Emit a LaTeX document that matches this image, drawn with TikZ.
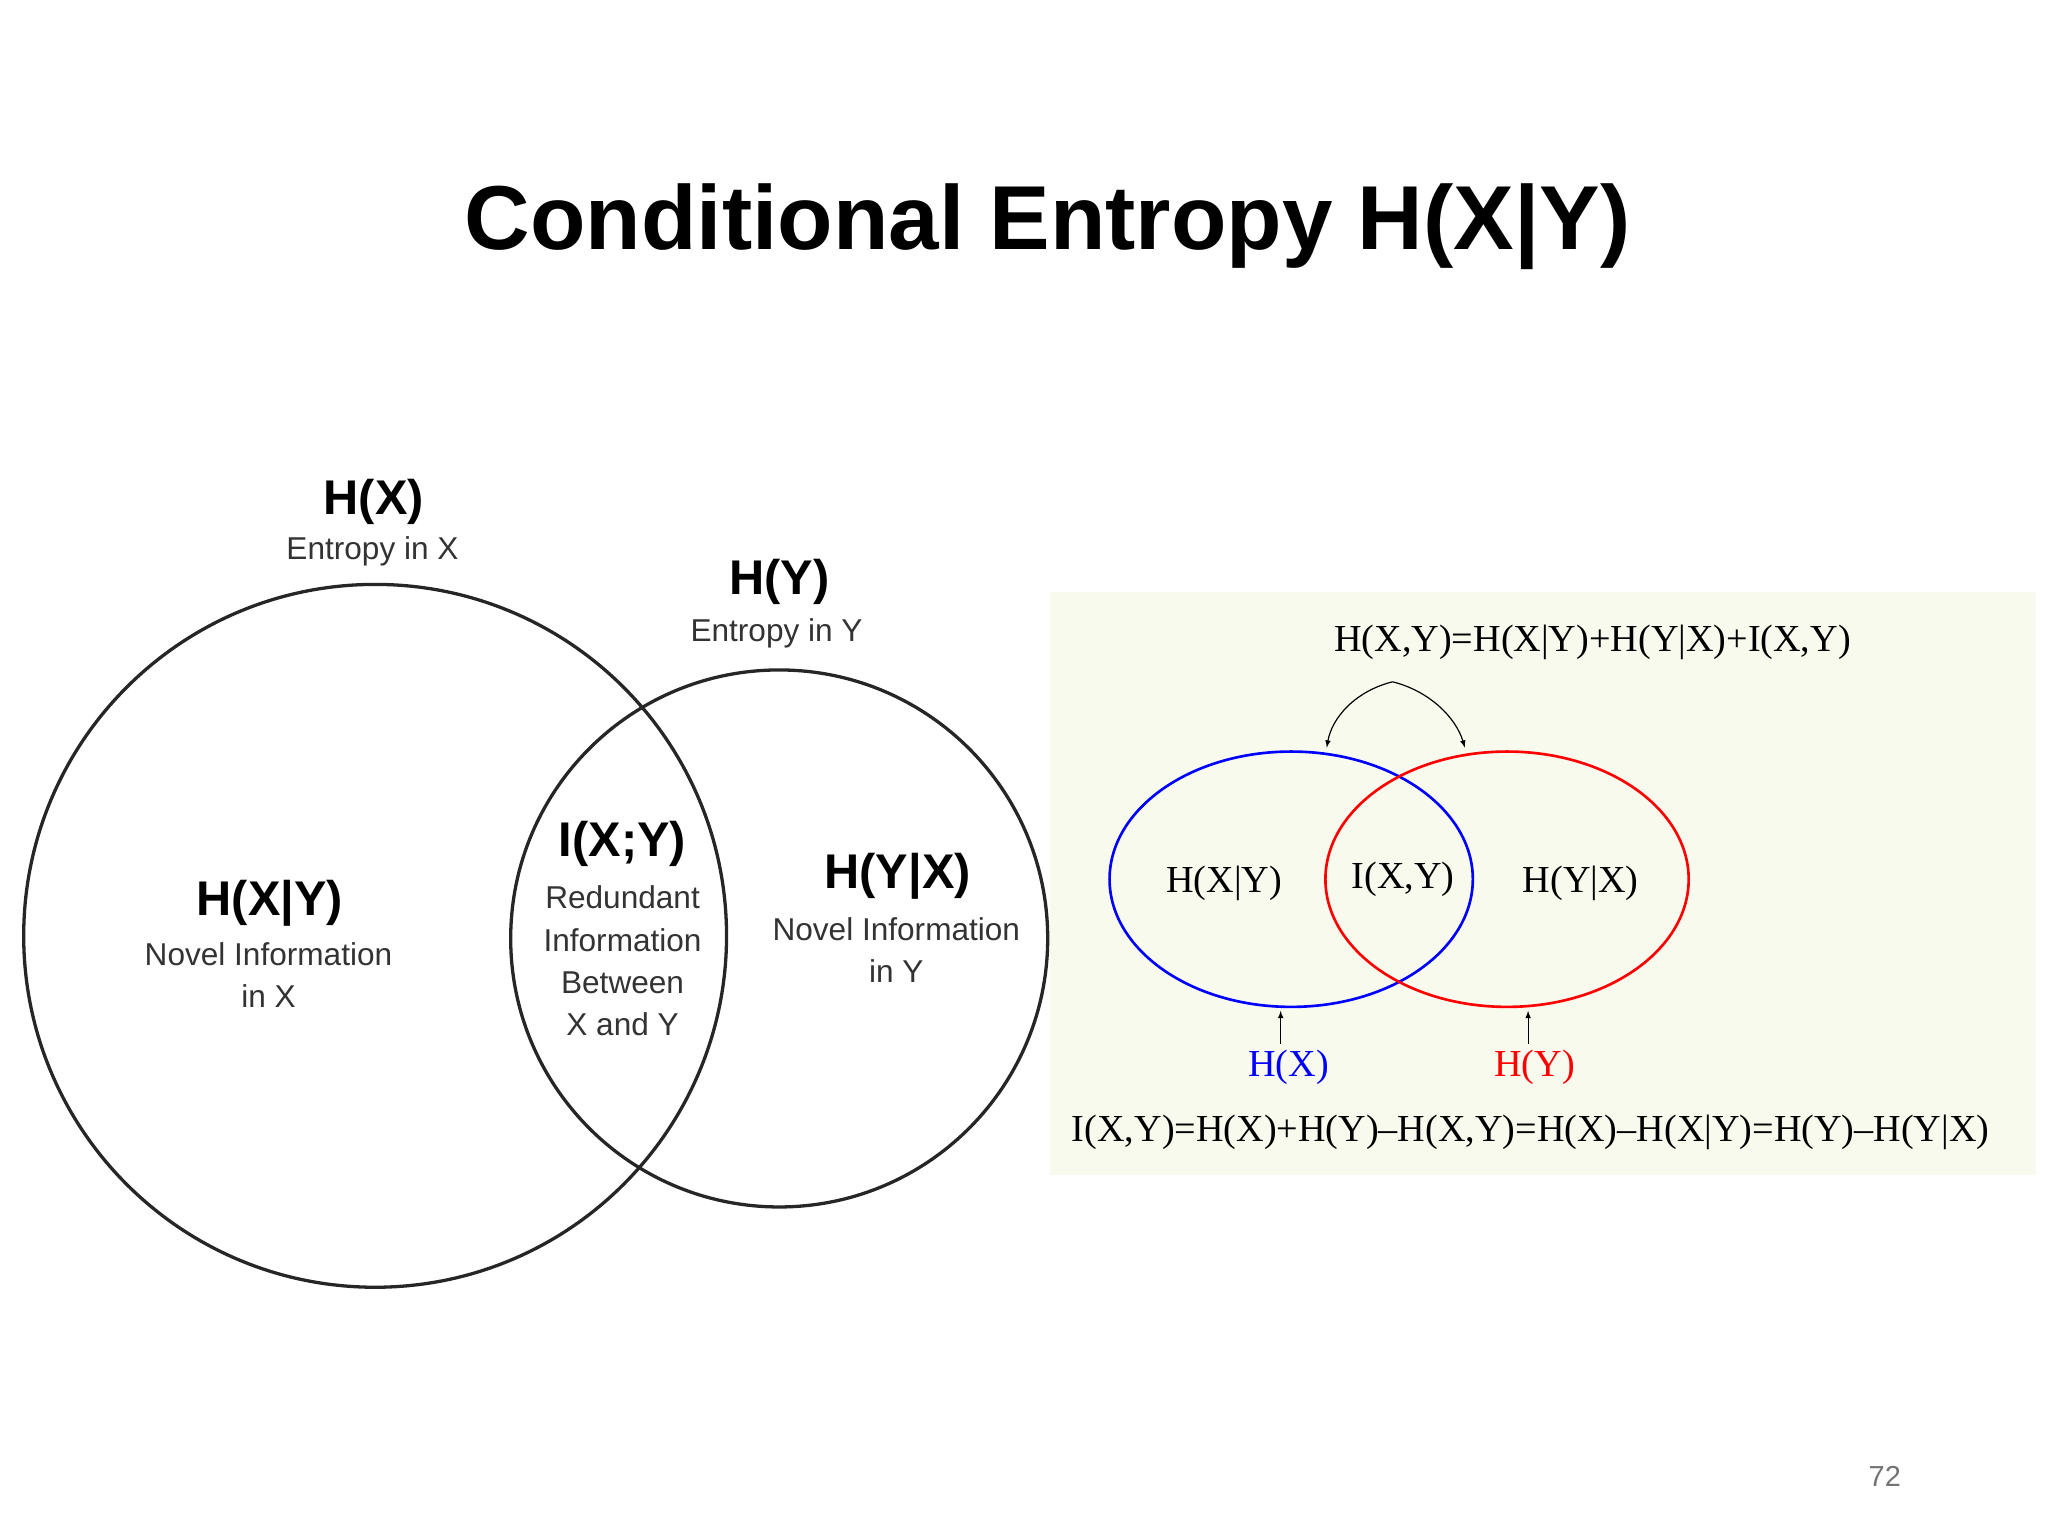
\documentclass[tikz,border=0pt]{standalone}
\usepackage{fontspec}
\setmainfont{Liberation Serif}
\setsansfont{Liberation Sans}
\begin{document}
\begin{tikzpicture}[x=1pt,y=-1pt,
  hb/.style={font=\sffamily\bfseries\fontsize{37}{40}\selectfont},
  sm/.style={font=\sffamily\fontsize{24}{32}\selectfont,text=black!80,align=center},
  se/.style={font=\rmfamily\fontsize{29}{32}\selectfont}]
\useasboundingbox (0,0) rectangle (1556,1167);
\node[font=\sffamily\bfseries\fontsize{69}{72}\selectfont] (title) at (796,172) {Conditional Entropy H(X|Y)};
% left venn
\draw[line width=2.5pt,black!85] (285,711) circle (267);
\draw[line width=2.5pt,black!85] (592,713) circle (204);
\node[hb] (hx) at (284,381) {H(X)};
\node[sm] (ex) at (283,419) {Entropy in X};
\node[hb] (hy) at (592,442) {H(Y)};
\node[sm] (ey) at (590,481) {Entropy in Y};
\node[hb] (hxy) at (205,686) {H(X|Y)};
\node[sm] (nx) at (204,741) {Novel Information\\in X};
\node[hb] (ixy) at (473,641) {I(X;Y)};
\node[sm] (rd) at (473,730) {Redundant\\Information\\Between\\X and Y};
\node[hb] (hyx) at (682,666) {H(Y|X)};
\node[sm] (ny) at (681,722) {Novel Information\\in Y};
% right panel
\fill[fill={rgb,255:red,248;green,250;blue,238}] (798,450) rectangle (1547,893);
\draw[blue,line width=2pt] (981,668) ellipse [x radius=138,y radius=97];
\draw[red,line width=2pt] (1145,668) ellipse [x radius=138,y radius=97];
\node[se] (top) at (1210,488) {H(X,Y)=H(X|Y)+H(Y|X)+I(X,Y)};
\node[se] (a) at (930,671) {H(X|Y)};
\node[se] (b) at (1066,668) {I(X,Y)};
\node[se] (c) at (1201,671) {H(Y|X)};
\coordinate (apex) at (1058,518);
\coordinate (tl) at (1008,568);
\coordinate (tr) at (1113,568);
\draw[-latex,line width=0.9pt] (apex) .. controls (1030,525) and (1012,545) .. (tl);
\draw[-latex,line width=0.9pt] (apex) .. controls (1086,525) and (1106,545) .. (tr);
\node[se,text=blue] (hxr) at (979,811) {H(X)};
\node[se,text=red] (hyr) at (1166,811) {H(Y)};
\draw[-latex,line width=0.9pt] (973,793) -- (973,768);
\draw[-latex,line width=0.9pt] (1161,793) -- (1161,768);
\node[se] (bot) at (1163,860) {I(X,Y)=H(X)+H(Y)–H(X,Y)=H(X)–H(X|Y)=H(Y)–H(Y|X)};
\node[font=\sffamily\fontsize{22}{24}\selectfont,text=black!55] (pg) at (1432,1122) {72};
\end{tikzpicture}
\end{document}
